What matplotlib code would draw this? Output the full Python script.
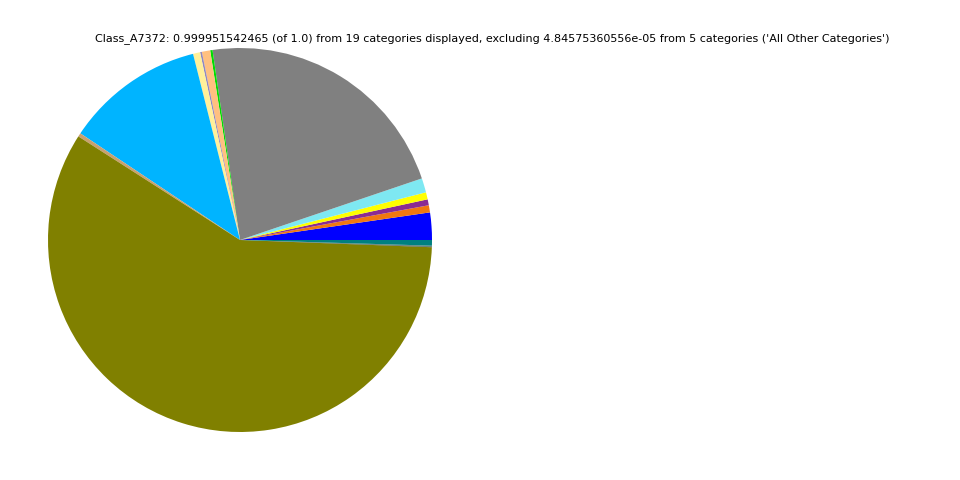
import matplotlib
matplotlib.use("Agg")
import matplotlib.pyplot as plt

categories = ["Cat_01", "Cat_02", "Cat_03", "Cat_04", "Cat_05", "Cat_06", "Cat_07",
              "Cat_08", "Cat_09", "Cat_10", "Cat_11", "Cat_12", "Cat_13", "Cat_14",
              "Cat_15", "Cat_16", "Cat_17", "Cat_18", "Cat_19"]
values = [0.0230, 0.0060, 0.0050, 0.0060, 0.0120, 0.2210, 0.0020, 0.0070,
          0.0015, 0.0060, 0.1170, 0.0030, 0.5850, 0.0003, 0.0003, 0.0003,
          0.0002, 0.0002, 0.0047]
colors = ["#0000ff", "#f07810", "#8a2c92", "#ffff00", "#7ee8f2", "#808080",
          "#00dd00", "#ffc080", "#9088c0", "#fff09a", "#00b4ff", "#c8a070",
          "#808000", "#404040", "#305030", "#205060", "#406060", "#306040",
          "#008080"]
title = ("Class_A7372: 0.999951542465 (of 1.0) from 19 categories displayed, "
         "excluding 4.84575360556e-05 from 5 categories ('All Other Categories')")

fig = plt.figure(figsize=(9.6, 4.8), dpi=100)
ax = fig.add_axes([0.05, 0.1, 0.4, 0.8])
ax.pie(values, colors=colors, startangle=0, counterclock=True, normalize=True,
       wedgeprops=dict(linewidth=0))
ax.set_aspect("equal")
ax.set_xlim(-1, 1)
ax.set_ylim(-1, 1)
fig.text(492 / 960, 1 - 39 / 480, title, ha="center", va="center", fontsize=8)
fig.savefig("out.png", dpi=100)
